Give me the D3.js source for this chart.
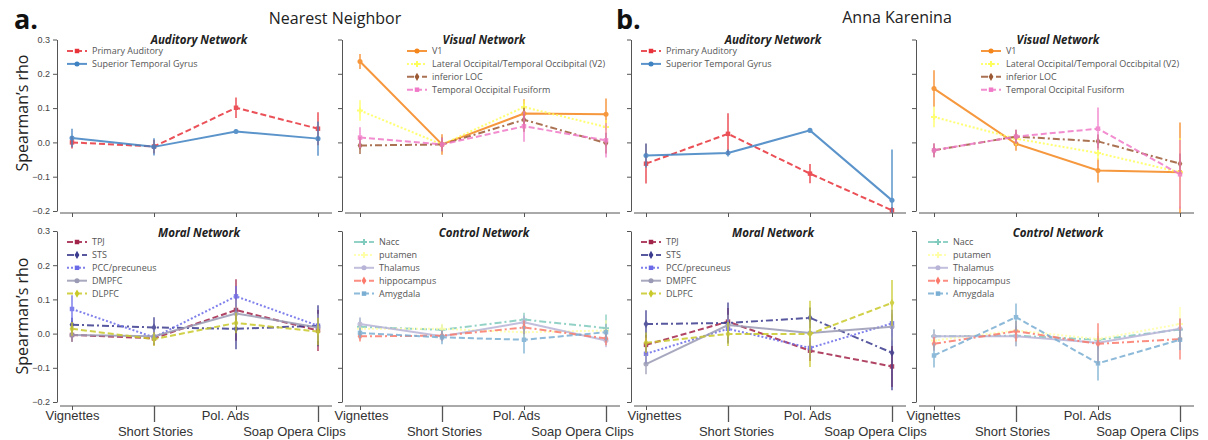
<!DOCTYPE html>
<html lang="en">
  <head>
    <meta charset="UTF-8" />
    <title>Spearman's rho by network</title>
    <script src="https://d3js.org/d3.v7.min.js"></script>
    <style>
      body {
        margin: 0;
        background: #fff;
        font-family: "Open Sans", "DejaVu Sans", sans-serif;
      }
      .ytick text { font-size: 9px; fill: #444; }
      .legend text { font-size: 9px; fill: #555; }
      .ptitle { font-size: 11.5px; font-weight: bold; font-style: italic; fill: #222; }
    </style>
  </head>
  <body>
    <div id="chart"></div>
    <script>
      // categories and ticks
      const categories = ["Vignettes", "Short Stories", "Pol. Ads", "Soap Opera Clips"];
      const yTicks = [-0.2, -0.1, 0.0, 0.1, 0.2, 0.3];

      // a. Nearest Neighbor — auditory
      const nnPrimaryAud = [0.0, -0.012, 0.101, 0.04];
      const nnPrimaryAudErr = [0.018, 0.02, 0.03, 0.048];
      const nnSTG = [0.013, -0.013, 0.032, 0.011];
      const nnSTGErr = [0.027, 0.025, 0.006, 0.05];
      // a. visual
      const nnV1 = [0.236, -0.006, 0.084, 0.082];
      const nnV1Err = [0.022, 0.03, 0.042, 0.046];
      const nnV2 = [0.093, -0.006, 0.103, 0.045];
      const nnV2Err = [0.03, 0.02, 0.02, 0.02];
      const nnILOC = [-0.009, -0.006, 0.066, -0.002];
      const nnILOCErr = [0.025, 0.02, 0.035, 0.03];
      const nnTOF = [0.014, -0.006, 0.047, 0.006];
      const nnTOFErr = [0.03, 0.02, 0.045, 0.05];
      // a. moral
      const nnTPJ = [-0.004, -0.014, 0.069, 0.009];
      const nnTPJErr = [0.02, 0.02, 0.09, 0.06];
      const nnSTS = [0.026, 0.018, 0.014, 0.023];
      const nnSTSErr = [0.02, 0.03, 0.06, 0.06];
      const nnPCC = [0.072, -0.011, 0.109, 0.023];
      const nnPCCErr = [0.04, 0.02, 0.03, 0.03];
      const nnDMPFC = [-0.004, -0.008, 0.059, 0.018];
      const nnDMPFCErr = [0.02, 0.02, 0.04, 0.04];
      const nnDLPFC = [0.014, -0.016, 0.031, 0.006];
      const nnDLPFCErr = [0.02, 0.02, 0.03, 0.04];
      // a. control
      const nnNacc = [0.02, 0.011, 0.041, 0.016];
      const nnNaccErr = [0.025, 0.015, 0.02, 0.04];
      const nnPutamen = [0.014, 0.014, 0.004, 0.009];
      const nnPutamenErr = [0.02, 0.015, 0.02, 0.03];
      const nnThalamus = [0.028, -0.008, 0.033, -0.02];
      const nnThalamusErr = [0.02, 0.015, 0.02, 0.02];
      const nnHippo = [-0.008, -0.006, 0.018, -0.014];
      const nnHippoErr = [0.015, 0.015, 0.02, 0.02];
      const nnAmygdala = [0.002, -0.011, -0.018, 0.004];
      const nnAmygdalaErr = [0.015, 0.02, 0.04, 0.025];

      // b. Anna Karenina — auditory
      const akPrimaryAud = [-0.062, 0.025, -0.091, -0.198];
      const akPrimaryAudErr = [0.058, 0.06, 0.028, 0.01];
      const akSTG = [-0.038, -0.031, 0.035, -0.169];
      const akSTGErr = [0.035, 0.01, 0.004, 0.148];
      // b. visual
      const akV1 = [0.157, -0.004, -0.082, -0.087];
      const akV1Err = [0.053, 0.02, 0.035, 0.145];
      const akV2 = [0.074, 0.011, -0.031, -0.087];
      const akV2Err = [0.03, 0.02, 0.02, 0.1];
      const akILOC = [-0.023, 0.017, 0.003, -0.062];
      const akILOCErr = [0.02, 0.02, 0.02, 0.03];
      const akTOF = [-0.023, 0.017, 0.04, -0.093];
      const akTOFErr = [0.02, 0.02, 0.062, 0.1];
      // b. moral
      const akTPJ = [-0.033, 0.035, -0.05, -0.096];
      const akTPJErr = [0.03, 0.04, 0.03, 0.06];
      const akSTS = [0.028, 0.031, 0.046, -0.056];
      const akSTSErr = [0.04, 0.06, 0.03, 0.11];
      const akPCC = [-0.059, 0.014, -0.042, 0.03];
      const akPCCErr = [0.03, 0.03, 0.03, 0.04];
      const akDMPFC = [-0.089, 0.025, 0.002, 0.02];
      const akDMPFCErr = [0.03, 0.03, 0.03, 0.04];
      const akDLPFC = [-0.027, -0.001, -0.001, 0.09];
      const akDLPFCErr = [0.03, 0.035, 0.097, 0.067];
      // b. control
      const akNacc = [-0.008, -0.006, -0.018, 0.012];
      const akNaccErr = [0.02, 0.03, 0.02, 0.03];
      const akPutamen = [-0.02, 0.009, -0.016, 0.028];
      const akPutamenErr = [0.02, 0.03, 0.02, 0.05];
      const akThalamus = [-0.008, -0.008, -0.027, 0.014];
      const akThalamusErr = [0.02, 0.03, 0.02, 0.03];
      const akHippo = [-0.03, 0.007, -0.03, -0.016];
      const akHippoErr = [0.02, 0.03, 0.06, 0.06];
      const akAmygdala = [-0.064, 0.048, -0.087, -0.018];
      const akAmygdalaErr = [0.035, 0.04, 0.05, 0.03];

      // line styles per region
      const styles = {
        "Primary Auditory": { color: "#e8333b", dash: "6,3", marker: d3.symbolSquare },
        "Superior Temporal Gyrus": { color: "#3f82c2", dash: null, marker: d3.symbolCircle },
        "V1": { color: "#f5861c", dash: null, marker: d3.symbolCircle },
        "Lateral Occipital/Temporal Occibpital (V2)": { color: "#ffff5a", dash: "2,2", marker: d3.symbolCross },
        "inferior LOC": { color: "#9c5a34", dash: "7,3,2,3", marker: d3.symbolDiamond },
        "Temporal Occipital Fusiform": { color: "#f07ac8", dash: "6,3", marker: d3.symbolSquare },
        "TPJ": { color: "#a3244a", dash: "6,3", marker: d3.symbolSquare },
        "STS": { color: "#3b3b8f", dash: "7,3,2,3", marker: d3.symbolDiamond },
        "PCC/precuneus": { color: "#6b6bea", dash: "2,2", marker: d3.symbolSquare },
        "DMPFC": { color: "#9a9ab5", dash: null, marker: d3.symbolCircle },
        "DLPFC": { color: "#c9c92a", dash: "6,3", marker: d3.symbolDiamond },
        "Nacc": { color: "#80cbbd", dash: "7,3,2,3", marker: d3.symbolCross },
        "putamen": { color: "#ffffa8", dash: "2,2", marker: d3.symbolCross },
        "Thalamus": { color: "#b8b4d8", dash: null, marker: d3.symbolCircle },
        "hippocampus": { color: "#fb7a6c", dash: "7,3,2,3", marker: d3.symbolDiamond },
        "Amygdala": { color: "#7aaed3", dash: "6,3", marker: d3.symbolSquare }
      };

      const panels = [
        { title: "Auditory Network", x0: 72, axisX: 57, row: 0, legendDx: 35, yLabels: true,
          series: [["Primary Auditory", nnPrimaryAud, nnPrimaryAudErr], ["Superior Temporal Gyrus", nnSTG, nnSTGErr]] },
        { title: "Visual Network", x0: 360, axisX: 342, row: 0, legendDx: 90,
          series: [["V1", nnV1, nnV1Err], ["Lateral Occipital/Temporal Occibpital (V2)", nnV2, nnV2Err],
                   ["inferior LOC", nnILOC, nnILOCErr], ["Temporal Occipital Fusiform", nnTOF, nnTOFErr]] },
        { title: "Moral Network", x0: 72, axisX: 57, row: 1, legendDx: 35, yLabels: true,
          labelShift: [0, 1, -11, -24],
          series: [["TPJ", nnTPJ, nnTPJErr], ["STS", nnSTS, nnSTSErr], ["PCC/precuneus", nnPCC, nnPCCErr],
                   ["DMPFC", nnDMPFC, nnDMPFCErr], ["DLPFC", nnDLPFC, nnDLPFCErr]] },
        { title: "Control Network", x0: 360, axisX: 342, row: 1, legendDx: 37,
          labelShift: [1, 2, -8, -24],
          series: [["Nacc", nnNacc, nnNaccErr], ["putamen", nnPutamen, nnPutamenErr], ["Thalamus", nnThalamus, nnThalamusErr],
                   ["hippocampus", nnHippo, nnHippoErr], ["Amygdala", nnAmygdala, nnAmygdalaErr]] },
        { title: "Auditory Network", x0: 646, axisX: 631, row: 0, legendDx: 35,
          series: [["Primary Auditory", akPrimaryAud, akPrimaryAudErr], ["Superior Temporal Gyrus", akSTG, akSTGErr]] },
        { title: "Visual Network", x0: 934, axisX: 916, row: 0, legendDx: 90,
          series: [["V1", akV1, akV1Err], ["Lateral Occipital/Temporal Occibpital (V2)", akV2, akV2Err],
                   ["inferior LOC", akILOC, akILOCErr], ["Temporal Occipital Fusiform", akTOF, akTOFErr]] },
        { title: "Moral Network", x0: 646, axisX: 631, row: 1, legendDx: 35,
          labelShift: [8, 8, -3, -17],
          series: [["TPJ", akTPJ, akTPJErr], ["STS", akSTS, akSTSErr], ["PCC/precuneus", akPCC, akPCCErr],
                   ["DMPFC", akDMPFC, akDMPFCErr], ["DLPFC", akDLPFC, akDLPFCErr]] },
        { title: "Control Network", x0: 934, axisX: 916, row: 1, legendDx: 37,
          labelShift: [-1, -4, -11, -33],
          series: [["Nacc", akNacc, akNaccErr], ["putamen", akPutamen, akPutamenErr], ["Thalamus", akThalamus, akThalamusErr],
                   ["hippocampus", akHippo, akHippoErr], ["Amygdala", akAmygdala, akAmygdalaErr]] }
      ];

      const rows = [
        { top: 39.5, bottom: 211, axisY: 213, titleY: 44, legendY: 51 },
        { top: 231, bottom: 402, axisY: 406, titleY: 237, legendY: 242 }
      ];

      const width = 1208, height = 440;
      const svg = d3.select("#chart").append("svg")
        .attr("width", width).attr("height", height);

      // headings
      svg.append("text").attr("x", 14).attr("y", 29).text("a.")
        .style("font-size", "27px").style("font-weight", "bold").style("fill", "#111");
      svg.append("text").attr("x", 616).attr("y", 29).text("b.")
        .style("font-size", "27px").style("font-weight", "bold").style("fill", "#111");
      svg.append("text").attr("x", 335).attr("y", 24).attr("text-anchor", "middle")
        .text("Nearest Neighbor").style("font-size", "16px").style("fill", "#222");
      svg.append("text").attr("x", 897).attr("y", 23).attr("text-anchor", "middle")
        .text("Anna Karenina").style("font-size", "16px").style("fill", "#222");

      // y label
      [113, 316].forEach(cy => {
        svg.append("text")
          .attr("transform", `translate(28,${cy}) rotate(-90)`)
          .attr("text-anchor", "middle")
          .text("Spearman\u2019s rho")
          .style("font-size", "16px").style("fill", "#222");
      });

      const step = 82;

      panels.forEach((p, pi) => {
        const r = rows[p.row];
        const x = d3.scalePoint().domain(categories).range([p.x0, p.x0 + step * 3]);
        const y = d3.scaleLinear().domain([-0.2, 0.3]).range([r.bottom, r.top]);
        const g = svg.append("g");

        // clip to the axes box
        const clipId = "clip" + pi;
        svg.append("clipPath").attr("id", clipId).append("rect")
          .attr("x", p.axisX).attr("y", r.top - 12)
          .attr("width", step * 3 + 40).attr("height", r.axisY - r.top + 12);

        // y axis (trimmed spine)
        const yAxis = d3.axisLeft(y).tickValues(yTicks).tickSize(4).tickSizeOuter(0)
          .tickFormat(p.yLabels ? d3.format(".1f") : "");
        const ya = g.append("g").attr("class", "ytick")
          .attr("transform", `translate(${p.axisX},0)`).call(yAxis);
        ya.selectAll("path, line").attr("stroke", "#555");

        // x axis
        const xAxis = d3.axisBottom(x).tickSize(4).tickSizeOuter(0)
          .tickFormat(p.row === 1 ? (d => d) : "");
        const xa = g.append("g").attr("transform", `translate(0,${r.axisY})`).call(xAxis);
        xa.select(".domain").remove();
        xa.append("line").attr("x1", p.axisX + 3).attr("x2", p.x0 + step * 3 + 14)
          .attr("stroke", "#555");
        xa.selectAll("line").attr("stroke", "#555");
        xa.selectAll("text").style("font-size", "13px").style("fill", "#333").attr("y", 5);
        if (p.row === 1) {
          xa.selectAll(".tick").each(function (d, i) {
            const t = d3.select(this);
            t.select("text").attr("x", p.labelShift[i]);
            if (i % 2 === 1) {
              t.select("line").attr("y2", 16).attr("stroke-width", 1.3);
              t.select("text").attr("y", 21);
            }
          });
        }

        // panel title
        g.append("text").attr("class", "ptitle")
          .attr("x", p.axisX + 142).attr("y", r.titleY).attr("text-anchor", "middle")
          .text(p.title);

        // series
        const plot = g.append("g").attr("clip-path", `url(#${clipId})`);
        const line = d3.line().x((d, i) => x(categories[i])).y(d => y(d));
        p.series.forEach(([name, vals, errs]) => {
          const s = styles[name];
          const sg = plot.append("g").attr("opacity", 0.85);
          sg.selectAll(".err").data(vals).join("line")
            .attr("x1", (d, i) => x(categories[i])).attr("x2", (d, i) => x(categories[i]))
            .attr("y1", (d, i) => y(d - errs[i])).attr("y2", (d, i) => y(d + errs[i]))
            .attr("stroke", s.color).attr("stroke-width", 1.5);
          sg.append("path").datum(vals).attr("d", line)
            .attr("fill", "none").attr("stroke", s.color).attr("stroke-width", 2)
            .attr("stroke-dasharray", s.dash);
          sg.selectAll(".mk").data(vals).join("path")
            .attr("transform", (d, i) => `translate(${x(categories[i])},${y(d)})`)
            .attr("d", d3.symbol().type(s.marker).size(20))
            .attr("fill", s.color);
        });

        // legend
        const lg = g.append("g").attr("class", "legend")
          .attr("transform", `translate(${p.axisX + p.legendDx},${r.legendY})`);
        p.series.forEach(([name], i) => {
          const s = styles[name];
          const row = lg.append("g").attr("transform", `translate(0,${i * 12.9})`);
          row.append("line").attr("x1", -25).attr("x2", -5)
            .attr("stroke", s.color).attr("stroke-width", 2)
            .attr("stroke-dasharray", s.dash).attr("opacity", 0.85);
          row.append("path").attr("transform", "translate(-15,0)")
            .attr("d", d3.symbol().type(s.marker).size(20)).attr("fill", s.color);
          row.append("text").attr("x", 0).attr("y", 3).text(name);
        });
      });
    </script>
  </body>
</html>
